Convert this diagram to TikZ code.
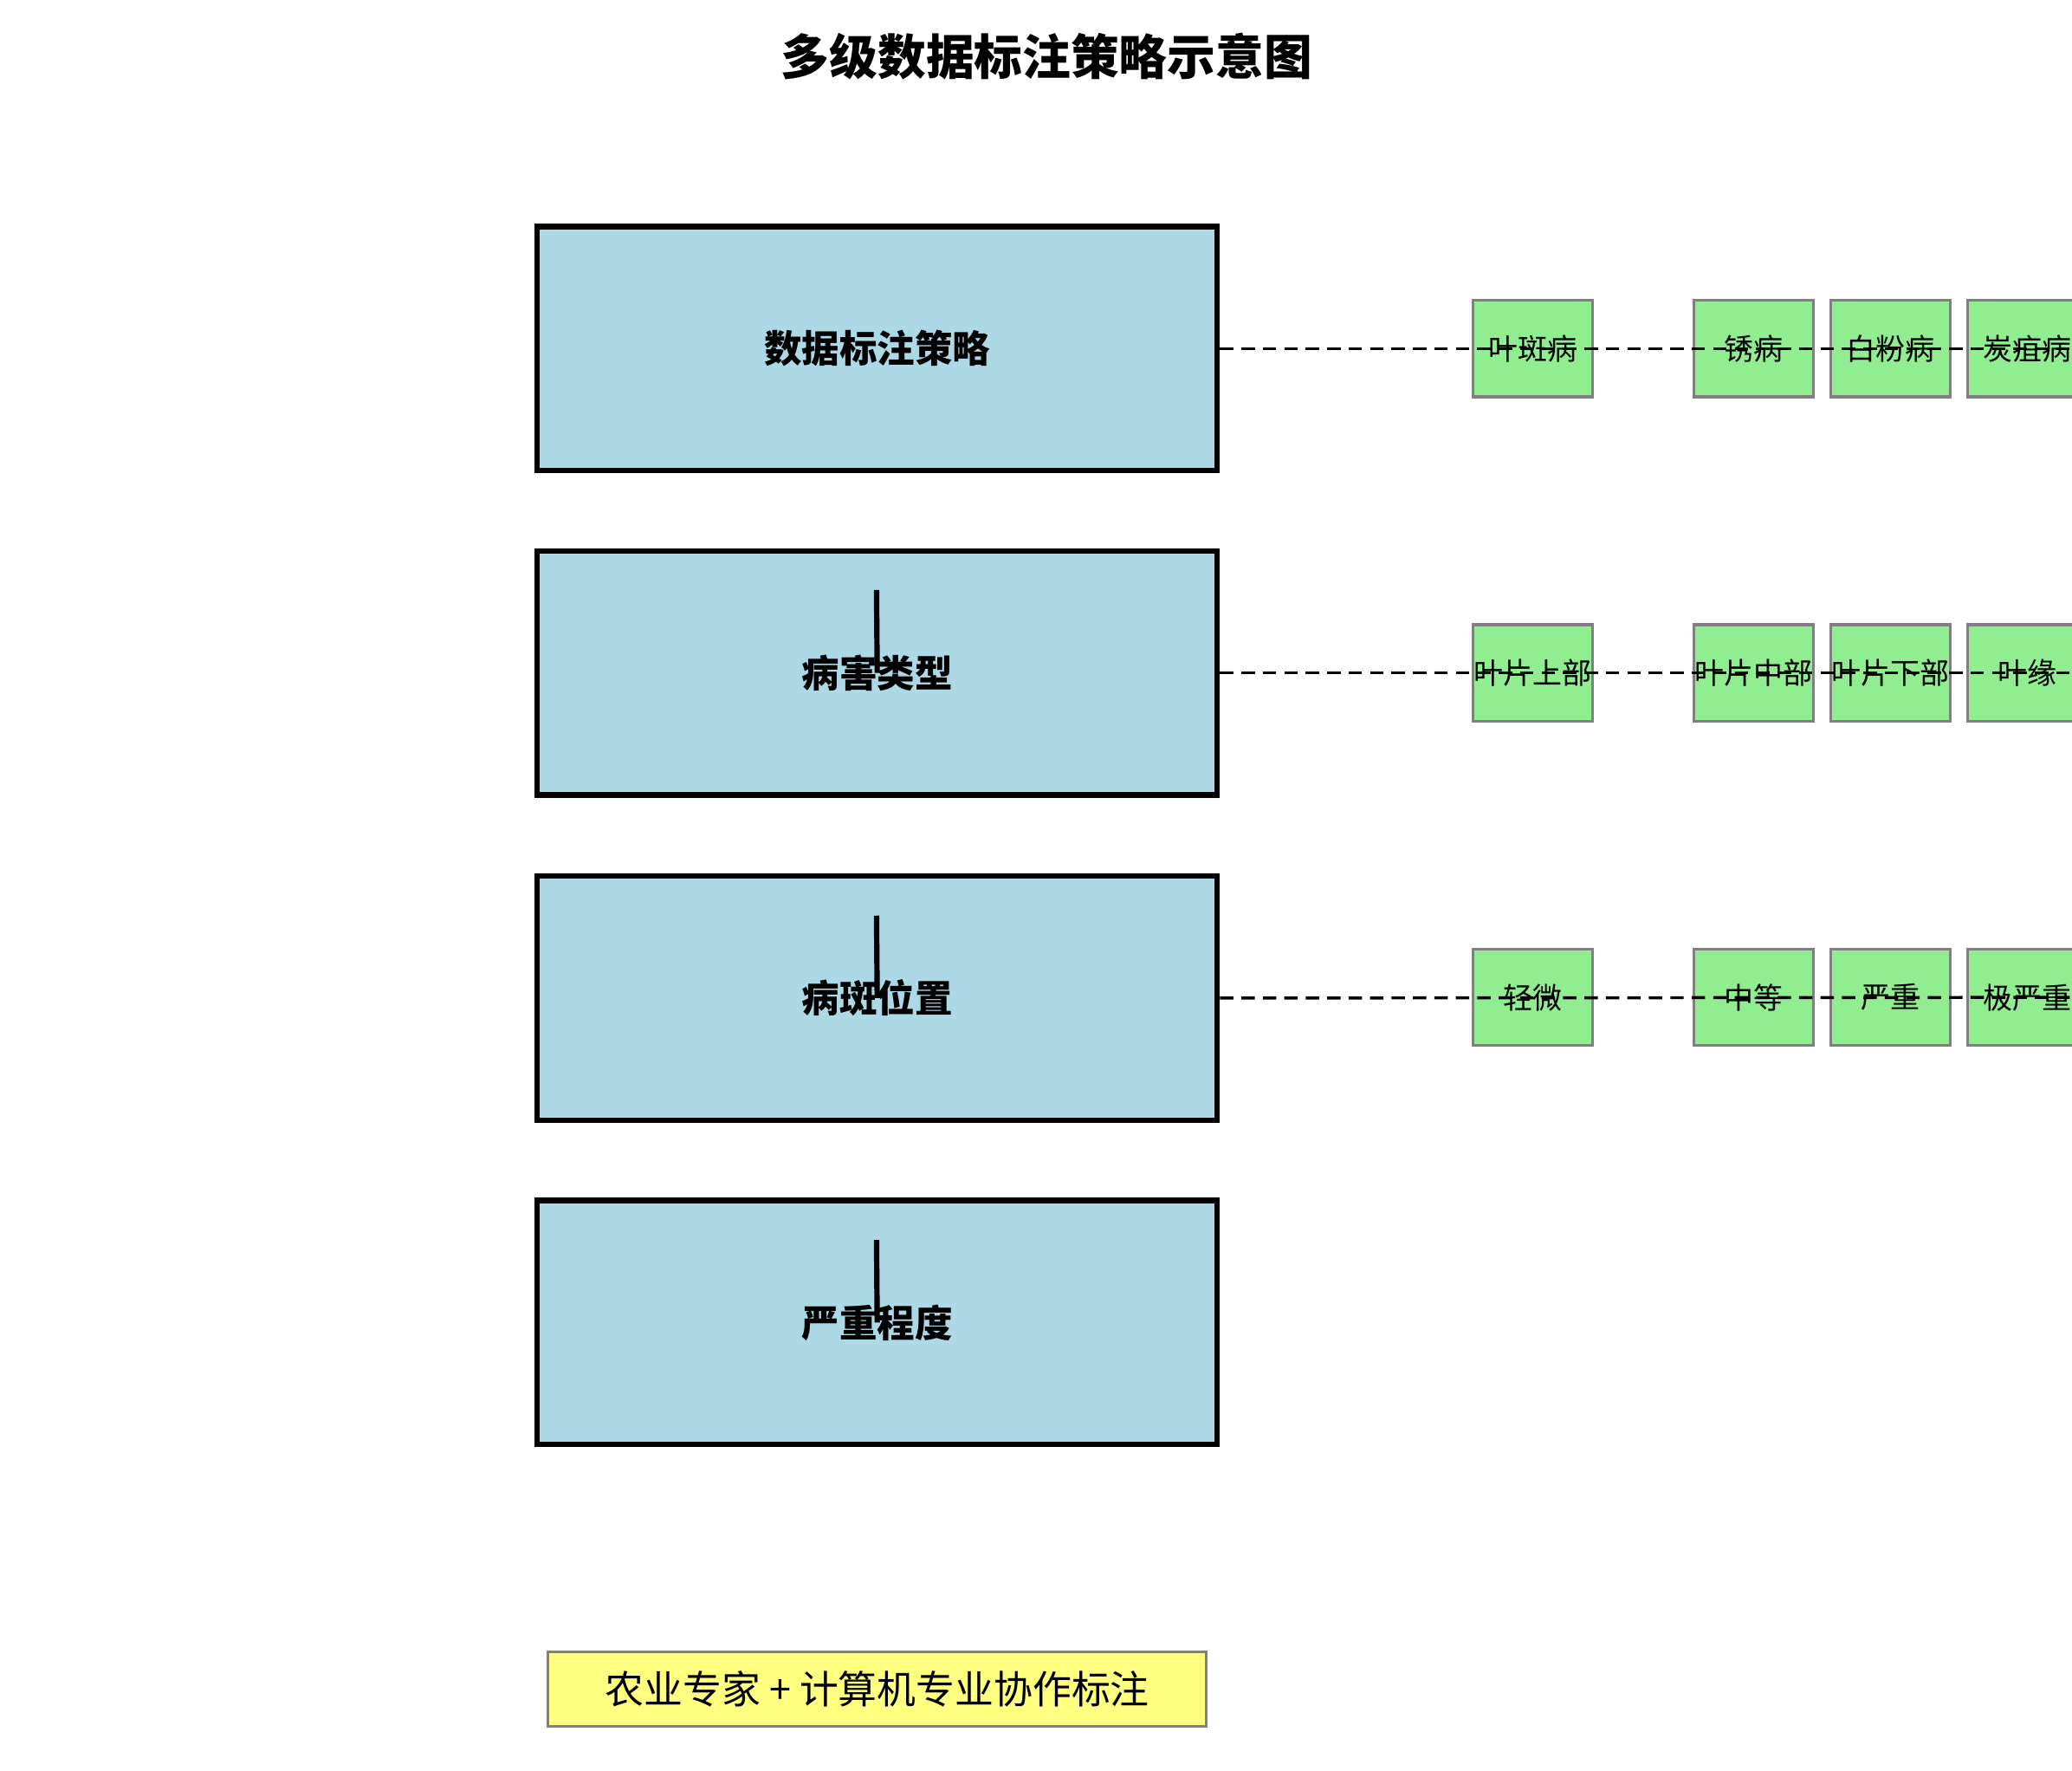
\documentclass[tikz,border=0pt]{standalone}
\usepackage{fontspec}
\setmainfont{Noto Sans CJK SC}
\begin{document}
\begin{tikzpicture}[x=0.4mm,y=-0.4mm,
  big/.style={draw=black,line width=1.6mm,fill={rgb,255:red,173;green,216;blue,230},minimum width=203mm,minimum height=72.8mm,inner sep=0,font=\fontsize{32}{36}\selectfont\bfseries},
  sm/.style={draw=gray,line width=0.8mm,fill={rgb,255:red,144;green,238;blue,144},minimum width=35.6mm,minimum height=28.8mm,inner sep=0,font=\fontsize{25}{28}\selectfont},
  dl/.style={dashed,line width=0.9mm,dash pattern=on 4mm off 2.4mm},
  vl/.style={line width=1.6mm}]
\useasboundingbox (0,0) rectangle (1546,1321);
\node[font=\fontsize{41}{46}\selectfont\bfseries] (title) at (781,42) {多级数据标注策略示意图};
\node[big] (b1) at (654.5,260) {数据标注策略};
\node[big] (b2) at (654.5,502) {病害类型};
\node[big] (b3) at (654.5,744.5) {病斑位置};
\node[big] (b4) at (654.5,986.5) {严重程度};
\foreach \r/\y/\a/\b/\c/\d in {1/260/叶斑病/锈病/白粉病/炭疽病,2/502/叶片上部/叶片中部/叶片下部/叶缘,3/744/轻微/中等/严重/极严重}{
  \node[sm] (g\r a) at (1143.5,\y) {\a};
  \node[sm] (g\r b) at (1308.5,\y) {\b};
  \node[sm] (g\r c) at (1410.5,\y) {\c};
  \node[sm] (g\r d) at (1512.5,\y) {\d};
  \coordinate (e\r) at (1546,\y);
}
\draw[dl] (b1.east) -- (e1);
\draw[dl] (b2.east) -- (e2);
\draw[dl] (b3.east) -- (e3);
\coordinate (v2) at (654,440); \coordinate (v3) at (654,683); \coordinate (v4) at (654,925);
\draw[vl] (v2) -- (b2.center);
\draw[vl] (v3) -- (b3.center);
\draw[vl] (v4) -- (b4.center);
\node[draw=gray,line width=0.8mm,fill={rgb,255:red,255;green,255;blue,128},minimum width=196.4mm,minimum height=22.4mm,font=\fontsize{33}{36}\selectfont] (note) at (654.5,1260) {农业专家 + 计算机专业协作标注};
\end{tikzpicture}
\end{document}
